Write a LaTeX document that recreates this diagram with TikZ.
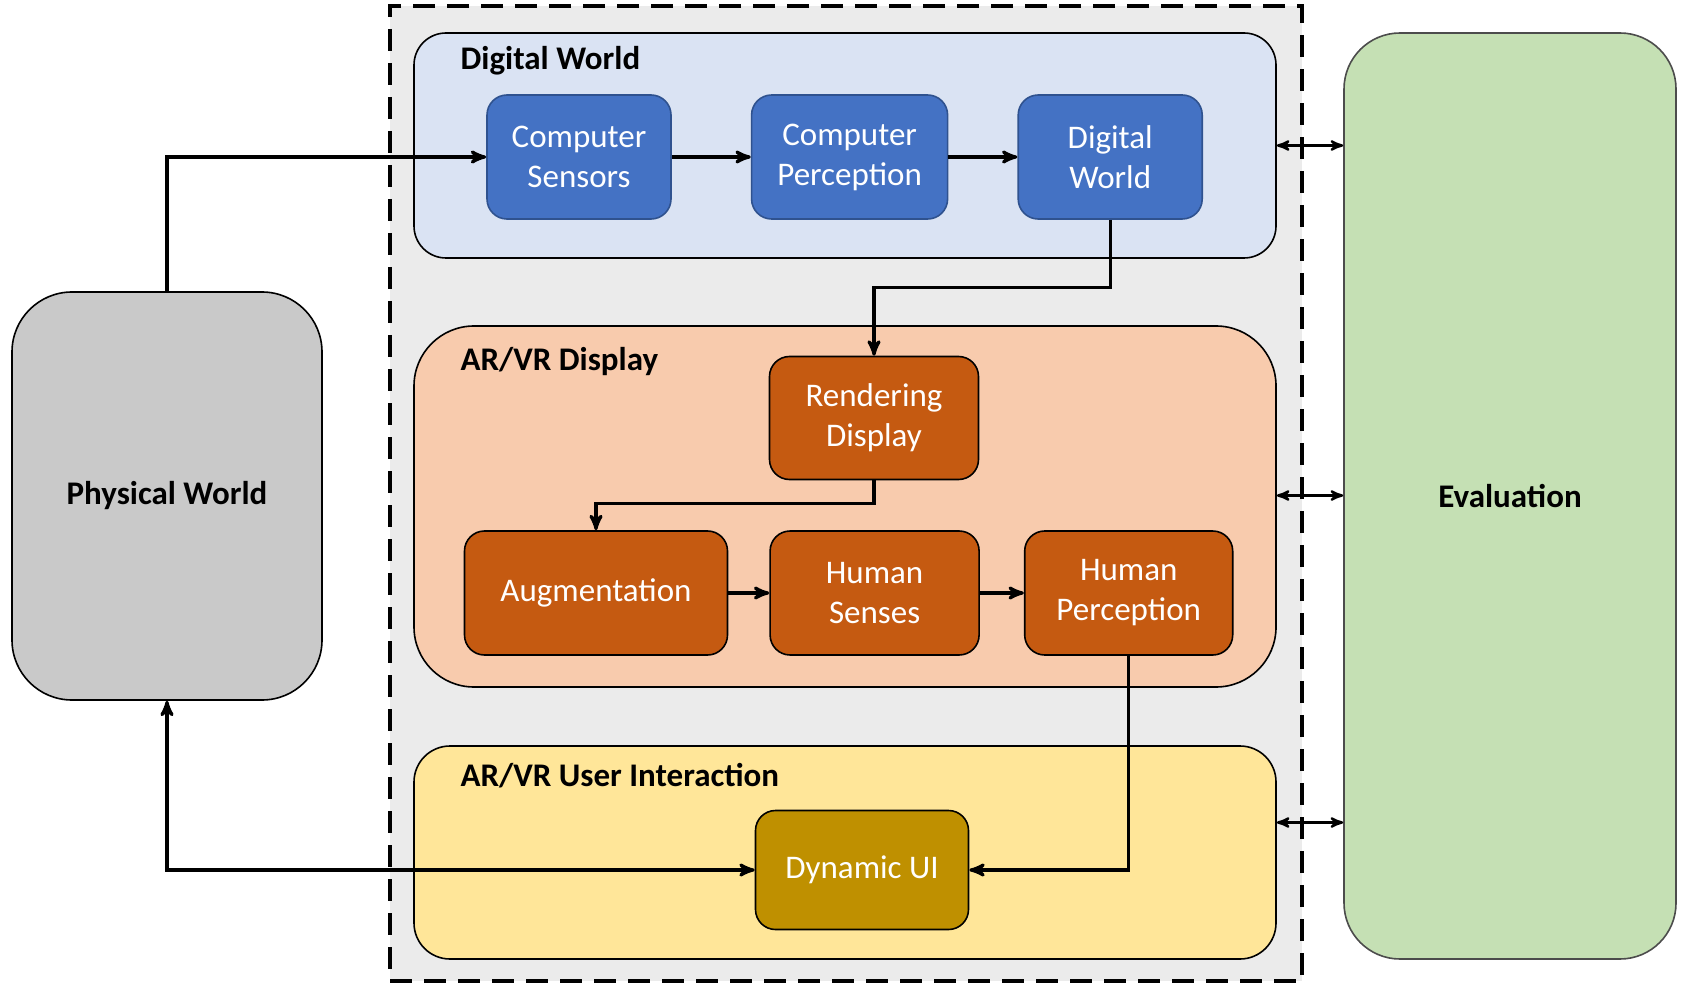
\documentclass[tikz,border=0pt]{standalone}
\usepackage{fontspec}
\setmainfont{Carlito}
\usetikzlibrary{arrows,positioning}

\definecolor{boxblue}{HTML}{4472C4}
\definecolor{boxblueline}{HTML}{2F528F}
\definecolor{grpblue}{HTML}{DAE3F3}
\definecolor{boxorange}{HTML}{C55A11}
\definecolor{grporange}{HTML}{F8CBAD}
\definecolor{grpyellow}{HTML}{FFE699}
\definecolor{boxgold}{HTML}{BF9000}
\definecolor{physgray}{HTML}{C9C9C9}
\definecolor{evalgreen}{HTML}{C5E0B4}
\definecolor{framegray}{HTML}{EBEBEB}

\begin{document}
\begin{tikzpicture}[->,>=stealth',line width=1.6pt,x=0.5pt,y=-0.5pt,
  font=\fontsize{16.5}{20}\selectfont,
  group node/.style={draw=black,line width=0.8pt,minimum width=431pt},
  box node/.style={rounded corners=10pt,draw=black,line width=0.8pt,text=white,align=center},
  blue node/.style={box node,fill=boxblue,draw=boxblueline,minimum width=92pt,minimum height=62pt},
  orange node/.style={box node,fill=boxorange,minimum width=104.5pt,minimum height=62pt},
  title node/.style={anchor=west,inner sep=0pt,font=\fontsize{16.5}{20}\selectfont\bfseries}]

  \useasboundingbox (0,0) rectangle (1685,989);

  \node[draw=black,line width=2pt,dash pattern=on 11pt off 6pt,fill=framegray,
    minimum width=456pt,minimum height=487.5pt] (frame) at (846,493.5) {};

  \node[group node,fill=grpblue,rounded corners=16pt,minimum height=112.5pt] (dwg) at (845,145.5) {};
  \node[group node,fill=grporange,rounded corners=30pt,minimum height=180.5pt] (arg) at (845,506.5) {};
  \node[group node,fill=grpyellow,rounded corners=18pt,minimum height=106.5pt] (uig) at (845,852.5) {};

  \node[title node] (dwt) at (459,61) {Digital World};
  \node[title node] (art) at (459,362) {AR/VR Display};
  \node[title node] (uit) at (459,776) {AR/VR User Interaction};

  \node[blue node] (cs) at (579,157) {Computer\\Sensors};
  \node[blue node,minimum width=98pt] (cp) [right=39.5pt of cs] {Computer\\Perception};
  \node[blue node] (dw) [right=34.5pt of cp] {Digital\\World};

  \node[orange node,minimum height=61.5pt] (rd) at (874,418) {Rendering\\Display};
  \node[orange node,minimum width=131.5pt] (aug) at (596,593) {Augmentation};
  \node[orange node] (hs) [right=20.5pt of aug] {Human\\Senses};
  \node[orange node,minimum width=104pt] (hp) [right=22pt of hs] {Human\\Perception};

  \node[box node,fill=boxgold,minimum width=106.5pt,minimum height=59.5pt] (dui) at (862,870) {Dynamic UI};

  \node[draw=black,line width=0.8pt,fill=physgray,rounded corners=30pt,
    minimum width=155pt,minimum height=204pt,font=\fontsize{16.5}{20}\selectfont\bfseries] (pw) at (167,496) {Physical World};
  \node[draw=black!70,line width=0.8pt,fill=evalgreen,rounded corners=28pt,
    minimum width=166pt,minimum height=463pt,font=\fontsize{16.5}{20}\selectfont\bfseries] (ev) at (1510,496) {Evaluation};

  \draw (pw.north) |- (cs.west);
  \draw (cs) -- (cp);
  \draw (cp) -- (dw);
  \draw (dw.south) -- ++(0,68) -| (rd.north);
  \draw (rd.south) -- ++(0,23) -| (aug.north);
  \draw (aug) -- (hs);
  \draw (hs) -- (hp);
  \draw (hp.south) |- (dui.east);
  \draw[<->] (pw.south) |- (dui.west);

  % links to the evaluation block
  \draw[<->,line width=1.2pt] (dwg.east) -- (dwg.east -| ev.west);
  \draw[<->,line width=1.2pt] ([yshift=5.5pt]arg.east) -- ([yshift=5.5pt]arg.east -| ev.west);
  \draw[<->,line width=1.2pt] ([yshift=15pt]uig.east) -- ([yshift=15pt]uig.east -| ev.west);
\end{tikzpicture}
\end{document}
